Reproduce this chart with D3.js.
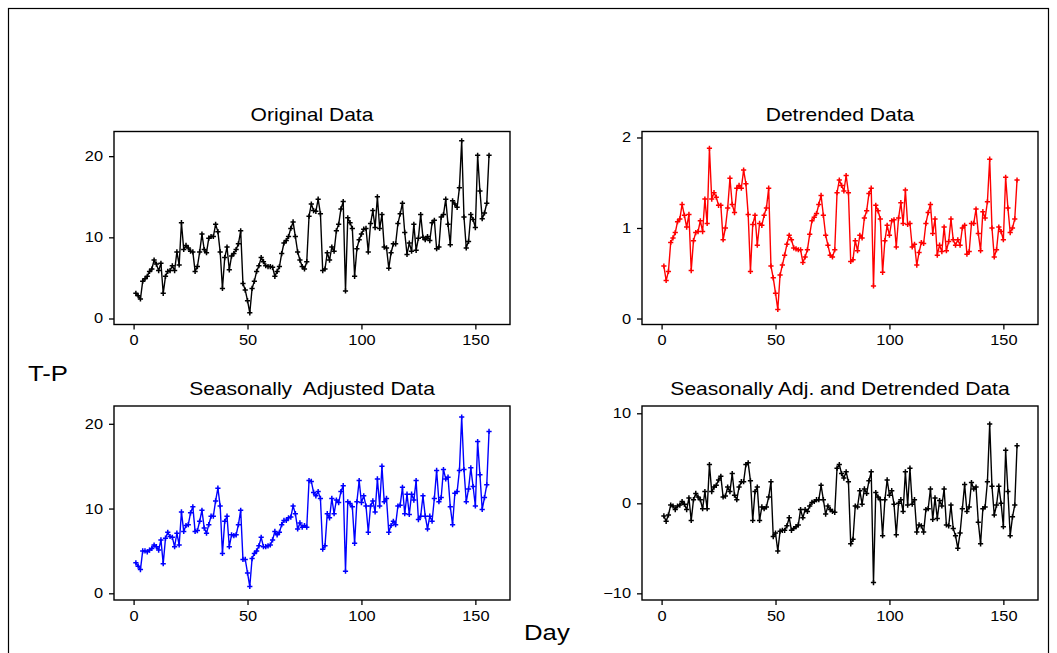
<!DOCTYPE html>
<html>
<head>
<meta charset="utf-8">
<script src="https://cdn.jsdelivr.net/npm/d3@7/dist/d3.min.js"></script>
<style>
  html, body { margin: 0; padding: 0; background: #fff; }
  svg { display: block; font-family: "Liberation Sans", Arial, sans-serif; }
</style>
</head>
<body>
<svg id="chart" width="1057" height="653"></svg>
<script>
// Daily T-P series: raw, detrended, seasonally adjusted, and both.
const originalData = [
  3.1,2.8,2.4,4.6,4.9,5.2,5.8,6.1,7.2,6.7,5.9,6.8,3.1,5.2,5.8,5.9,6.5,5.9,8.2,6.6,
  11.8,8.5,9.0,8.7,8.3,8.2,5.8,6.4,8.2,10.4,8.5,8.1,9.9,10.1,10.1,11.6,10.7,8.2,3.7,7.5,
  8.8,6.0,7.7,8.0,8.5,9.2,10.8,4.3,3.5,2.2,0.7,
  3.7,4.6,5.8,6.5,7.5,7.0,6.5,6.4,6.4,6.3,5.2,5.8,6.4,8.0,9.3,9.6,10.1,11.1,11.9,10.1,
  8.2,7.2,6.4,6.1,7.0,12.6,14.1,13.3,13.2,14.7,12.9,5.9,6.1,8.1,7.2,8.8,8.3,10.8,11.6,13.5,
  14.4,3.4,12.4,11.8,11.1,5.2,8.6,9.7,10.4,11.0,11.1,8.2,11.7,13.3,11.2,15.0,11.1,12.8,8.8,
  8.7,6.2,8.1,9.2,9.2,11.7,12.9,14.2,10.6,7.9,9.3,8.3,11.6,8.4,9.9,12.8,10.0,9.7,10.1,9.6,
  11.8,12.1,8.6,8.8,12.5,12.8,14.7,11.6,9.1,14.5,14.1,13.7,16.1,21.9,12.5,8.7,9.5,12.8,12.2,11.2,
  20.1,15.7,12.3,13.0,14.2,20.1
];
const detrendedData = [
  0.58,0.42,0.52,0.84,0.89,0.95,1.07,1.10,1.26,1.14,1.01,1.15,0.53,0.86,0.95,0.96,1.08,0.96,1.32,1.05,
  1.88,1.32,1.39,1.34,1.25,1.25,0.87,1.00,1.22,1.55,1.26,1.17,1.44,1.47,1.44,1.64,1.49,1.15,0.52,1.04,
  1.14,0.81,1.05,1.03,1.14,1.22,1.44,0.58,0.45,0.28,
  0.10,0.48,0.59,0.70,0.82,0.92,0.87,0.78,0.77,0.76,0.76,0.62,0.68,0.76,0.93,1.08,1.12,1.16,1.26,1.36,
  1.14,0.92,0.81,0.70,0.68,0.76,1.39,1.53,1.47,1.41,1.58,1.39,0.63,0.65,0.86,0.75,0.92,0.89,1.11,1.19,
  1.38,1.44,0.36,1.25,1.19,1.10,0.51,0.86,1.03,0.92,1.08,1.09,0.79,1.11,1.28,1.05,1.42,1.04,1.05,
  0.79,0.82,0.59,0.73,0.84,0.83,1.05,1.17,1.26,0.94,1.10,0.70,0.81,0.74,1.01,0.75,0.85,1.10,0.87,0.81,
  0.87,0.81,1.00,1.03,0.71,0.74,1.05,1.05,1.21,0.94,0.75,1.18,1.11,1.29,1.76,1.00,0.68,0.76,1.01,0.96,
  0.87,1.56,1.22,0.95,1.00,1.10,1.53
];
const seasAdjData = [
  3.6,3.2,2.8,5.0,5.0,4.9,5.1,5.3,5.7,5.5,5.1,6.3,3.5,6.5,7.2,6.7,6.6,5.5,7.1,5.7,
  9.6,7.3,8.0,8.1,9.5,10.2,7.3,7.4,8.5,9.8,7.7,7.1,8.1,9.1,9.1,10.9,12.4,10.3,4.7,8.5,
  9.1,5.5,6.9,6.8,6.9,8.1,9.8,4.0,4.0,2.4,0.8,
  4.1,4.7,5.0,5.6,6.6,5.5,5.5,5.6,5.7,6.3,7.3,6.9,7.2,8.1,8.6,8.6,8.9,9.0,10.3,9.4,
  7.6,8.3,7.8,8.0,7.8,13.3,13.2,11.9,11.5,12.0,11.2,5.2,5.6,9.4,8.9,11.2,9.4,11.0,10.7,12.0,
  12.7,2.6,10.8,10.6,10.2,5.9,10.8,13.3,10.7,11.5,10.3,7.2,10.3,10.9,9.6,13.5,10.3,15.0,
  10.8,11.2,7.2,8.0,8.5,8.1,10.3,10.4,12.5,9.4,11.7,9.3,11.7,11.0,13.3,8.7,9.1,11.5,9.1,7.6,
  9.1,8.5,11.2,14.5,10.8,11.3,14.6,13.5,13.7,10.2,8.1,11.8,12.0,14.5,20.8,14.6,10.8,12.3,14.8,12.6,
  10.3,17.9,14.0,9.9,11.3,12.8,19.1
];
const seasAdjDetrendedData = [
  -1.4,-2.0,-1.3,-0.2,-0.3,-0.7,-0.3,-0.2,0.2,-0.1,-0.7,0.6,-1.9,0.4,1.1,0.7,0.4,-0.6,1.3,-0.6,
  4.3,1.3,1.8,2.0,2.6,3.0,0.7,0.8,1.8,1.3,3.3,0.9,0.4,1.8,2.4,2.4,4.3,4.5,2.5,-1.9,
  1.3,1.8,-1.9,-0.4,-0.6,-0.4,0.7,2.4,-3.7,-3.3,
  -5.3,-3.1,-3.0,-3.0,-2.5,-1.6,-3.0,-2.8,-2.6,-2.4,-0.7,-1.6,-0.7,-0.9,-0.3,0.1,0.2,0.4,0.4,2.0,
  0.4,-1.2,-0.3,-0.7,-0.9,-1.0,3.9,4.3,3.3,2.8,3.5,2.4,-4.5,-4.0,-0.3,-0.4,1.4,-0.1,1.6,1.1,
  2.5,3.5,-8.8,1.2,0.7,0.4,-3.6,0.4,2.6,0.9,1.4,-0.1,-3.5,0.0,0.4,-0.9,3.5,-0.2,3.9,
  -0.1,0.4,-3.2,-2.4,-2.5,-3.2,-0.7,-0.6,1.6,-1.8,0.6,-1.7,0.3,-0.3,1.6,-2.4,-2.5,-0.2,-2.8,-3.6,
  -5.0,-3.3,-0.6,2.1,-0.9,-0.4,2.3,1.6,1.8,-2.1,-4.5,-0.6,-0.4,2.4,8.8,1.9,-1.3,-0.2,1.9,0.0,
  -2.6,5.9,1.3,-3.6,-1.5,-0.2,6.4
];

const xTicks = [0, 50, 100, 150];
const yTicksOriginal = [0, 10, 20];
const yTicksDetrended = [0, 1, 2];
const yTicksSeasAdj = [0, 10, 20];
const yTicksSeasAdjDetrended = [-10, 0, 10];

const panels = [
  { title: "Original Data", values: originalData, color: "#000000",
    box: [114, 131.5, 396, 193], yDomain: [-0.74, 23.04], yTicks: yTicksOriginal },
  { title: "Detrended Data", values: detrendedData, color: "#ff0000",
    box: [642, 131.5, 396, 193], yDomain: [-0.066, 2.066], yTicks: yTicksDetrended },
  { title: "Seasonally  Adjusted Data", values: seasAdjData, color: "#0000ff",
    box: [114, 406, 396, 194], yDomain: [-0.79, 22.1], yTicks: yTicksSeasAdj },
  { title: "Seasonally Adj. and Detrended Data", values: seasAdjDetrendedData, color: "#000000",
    box: [642, 406, 396, 194], yDomain: [-10.74, 10.81], yTicks: yTicksSeasAdjDetrended }
];
const xDomain = [-8.6, 165.2];

// glyphs in this figure are drawn slightly wide
const stretch = 1.17;

const svg = d3.select("#chart");

// outer border of the figure
svg.append("rect")
  .attr("x", 8.5).attr("y", 8.5)
  .attr("width", 1040).attr("height", 660)
  .attr("fill", "none").attr("stroke", "#000").attr("stroke-width", 1.2);

function widen(sel) {
  sel.each(function () {
    const t = d3.select(this);
    const x0 = +t.attr("x") || 0;
    t.attr("x", x0 / stretch).attr("transform", `scale(${stretch},1)`);
  });
}

function wideText(parent, x, y, str, size, anchor) {
  return parent.append("text")
    .attr("transform", `translate(${x},${y}) scale(${stretch},1)`)
    .attr("text-anchor", anchor).attr("font-size", size).attr("fill", "#000")
    .style("white-space", "pre")
    .text(str);
}

panels.forEach(p => {
  const [bx, by, bw, bh] = p.box;
  const x = d3.scaleLinear().domain(xDomain).range([bx, bx + bw]);
  const y = d3.scaleLinear().domain(p.yDomain).range([by + bh, by]);
  const g = svg.append("g");

  g.append("rect")
    .attr("x", bx).attr("y", by).attr("width", bw).attr("height", bh)
    .attr("fill", "none").attr("stroke", "#000").attr("stroke-width", 1.4);

  const xAxis = g.append("g")
    .attr("transform", `translate(0,${by + bh})`)
    .call(d3.axisBottom(x).tickValues(xTicks).tickSize(5).tickPadding(6).tickFormat(d3.format("d")));
  xAxis.select(".domain").remove();
  xAxis.selectAll("line").attr("stroke", "#000").attr("stroke-width", 1.3);
  xAxis.selectAll("text").attr("font-size", 14).attr("fill", "#000")
    .attr("font-family", "Liberation Sans, Arial, sans-serif").call(widen);

  const yAxis = g.append("g")
    .attr("transform", `translate(${bx},0)`)
    .call(d3.axisLeft(y).tickValues(p.yTicks).tickSize(5).tickPadding(6).tickFormat(d3.format("d")));
  yAxis.select(".domain").remove();
  yAxis.selectAll("line").attr("stroke", "#000").attr("stroke-width", 1.3);
  yAxis.selectAll("text").attr("font-size", 14).attr("fill", "#000")
    .attr("font-family", "Liberation Sans, Arial, sans-serif").call(widen);

  wideText(g, bx + bw / 2, by - 11, p.title, 18, "middle");

  const line = d3.line().x((d, i) => x(i + 1)).y(d => y(d));
  g.append("path").datum(p.values)
    .attr("d", line).attr("fill", "none")
    .attr("stroke", p.color).attr("stroke-width", 1.4).attr("stroke-linejoin", "round");

  // small plus markers at every observation
  const m = 2.6;
  g.append("g").selectAll("path").data(p.values).join("path")
    .attr("d", (d, i) => {
      const cx = x(i + 1), cy = y(d);
      return `M${cx - m},${cy}H${cx + m}M${cx},${cy - m}V${cy + m}`;
    })
    .attr("stroke", p.color).attr("stroke-width", 1.5);
});

wideText(svg, 28, 381, "T-P", 22, "start");
wideText(svg, 524, 640, "Day", 22, "start");
</script>
</body>
</html>
